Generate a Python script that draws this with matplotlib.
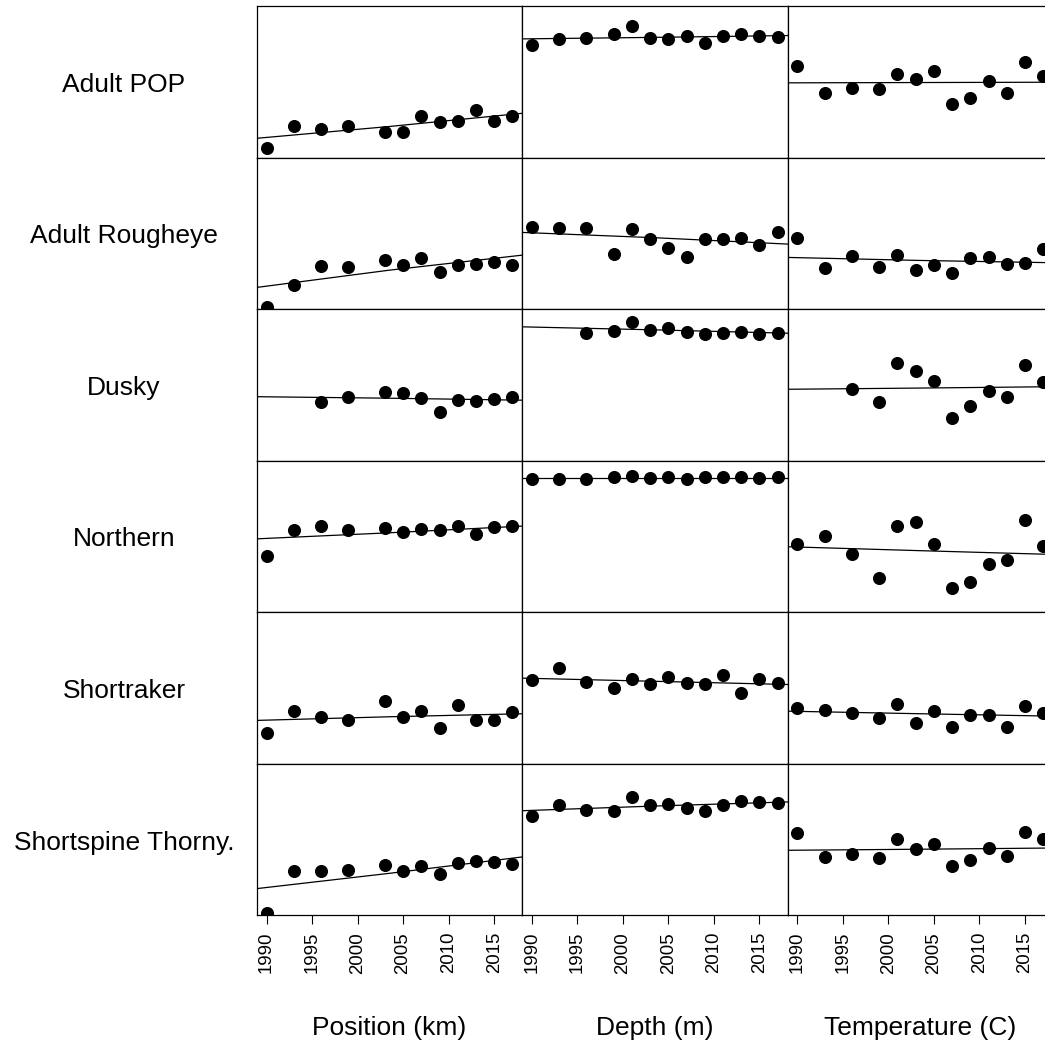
# trend of fish distribution metrics by year, one panel per species x variable
import numpy as np
import matplotlib.pyplot as plt
from matplotlib import rcParams

config = {
    "font.family": 'sans-serif',
    "font.sans-serif": ['Liberation Sans', 'DejaVu Sans'],
    "font.size": 19,
}
rcParams.update(config)

species = ['Adult POP', 'Adult Rougheye', 'Dusky', 'Northern', 'Shortraker', 'Shortspine Thorny.']
variables = ['Position (km)', 'Depth (m)', 'Temperature (C)']

# survey years
years_all = [1990, 1993, 1996, 1999, 2001, 2003, 2005, 2007, 2009, 2011, 2013, 2015, 2017]
years_pos = [1990, 1993, 1996, 1999, 2003, 2005, 2007, 2009, 2011, 2013, 2015, 2017]
years_dusky_pos = [1996, 1999, 2003, 2005, 2007, 2009, 2011, 2013, 2015, 2017]
years_dusky = [1996, 1999, 2001, 2003, 2005, 2007, 2009, 2011, 2013, 2015, 2017]

# relative index (0-100 of panel range)
pop_pos = [6.1, 21.1, 19.1, 20.7, 16.7, 16.7, 27.7, 23.3, 24.4, 31.7, 24.0, 27.1]
pop_dep = [74.4, 78.1, 79.0, 81.4, 87.1, 79.0, 78.1, 79.9, 75.7, 79.9, 81.4, 79.9, 79.7]
pop_tmp = [60.7, 42.4, 46.0, 45.1, 55.2, 51.7, 57.2, 35.2, 39.4, 50.6, 42.9, 62.9, 53.5]

rough_pos = [1.5, 15.8, 28.4, 27.5, 32.5, 29.0, 33.5, 24.6, 29.0, 29.9, 31.2, 29.0]
rough_dep = [53.9, 53.7, 53.3, 36.3, 53.0, 46.4, 40.5, 34.1, 46.4, 46.4, 47.1, 42.2, 50.8]
rough_tmp = [47.1, 26.9, 34.8, 27.9, 35.6, 25.7, 29.0, 23.8, 33.5, 34.1, 29.9, 30.6, 39.6]

dusky_pos = [38.5, 42.0, 45.1, 44.5, 41.6, 32.3, 39.9, 39.2, 40.7, 42.0]
dusky_dep = [84.5, 85.8, 91.4, 86.1, 87.8, 85.1, 83.8, 84.5, 85.1, 83.6, 84.3]
dusky_tmp = [47.1, 38.5, 64.3, 59.0, 52.6, 28.4, 36.3, 45.8, 42.0, 63.2, 52.1]

north_pos = [37.4, 54.1, 56.6, 54.1, 55.7, 52.6, 55.0, 54.1, 56.8, 51.7, 56.1, 56.6]
north_dep = [87.6, 87.6, 87.6, 89.1, 90.2, 88.4, 89.1, 87.6, 88.9, 88.9, 88.9, 88.4, 88.9]
north_tmp = [45.3, 50.6, 38.7, 22.7, 57.0, 59.4, 45.3, 16.1, 19.8, 32.1, 34.6, 61.0, 43.4]

short_pos = [20.5, 34.5, 31.0, 28.6, 41.1, 31.0, 34.5, 23.8, 38.7, 28.6, 28.6, 33.9]
short_dep = [55.0, 62.9, 54.1, 49.7, 55.8, 52.8, 57.2, 53.5, 52.8, 58.5, 46.9, 55.8, 53.5]
short_tmp = [36.7, 35.4, 33.7, 30.1, 39.3, 27.1, 34.5, 24.4, 32.3, 32.3, 24.4, 38.3, 33.2]

thorny_pos = [1.3, 29.0, 29.0, 29.9, 33.4, 29.0, 32.5, 27.5, 34.3, 35.6, 35.0, 33.9]
thorny_dep = [65.5, 73.0, 69.7, 68.8, 77.9, 73.0, 73.7, 70.6, 69.0, 73.0, 75.2, 74.6, 74.3]
thorny_tmp = [54.5, 38.5, 40.5, 37.6, 50.2, 43.6, 47.3, 32.5, 36.5, 44.2, 38.9, 54.8, 50.6]

# fitted trend read at start / middle / end of the year range
fit_years = [1988.92, 2003.5, 2018.08]
pop_fit = [[12.7, 20.5, 29.2], [78.3, 79.3, 80.5], [49.3, 49.5, 49.7]]
rough_fit = [[14.3, 25.7, 35.6], [50.6, 47.1, 42.9], [34.1, 32.1, 30.6]]
dusky_fit = [[42.2, 41.2, 39.9], [88.3, 86.3, 84.1], [47.1, 47.9, 48.8]]
north_fit = [[48.4, 52.4, 56.8], [88.7, 88.7, 88.7], [43.2, 40.6, 38.1]]
short_fit = [[28.6, 31.0, 33.0], [56.5, 54.4, 52.3], [34.7, 33.0, 31.4]]
thorny_fit = [[17.6, 27.7, 38.5], [69.0, 72.1, 74.8], [42.9, 43.6, 44.4]]

rows = [
    ([years_pos, years_all, years_all], [pop_pos, pop_dep, pop_tmp], pop_fit),
    ([years_pos, years_all, years_all], [rough_pos, rough_dep, rough_tmp], rough_fit),
    ([years_dusky_pos, years_dusky, years_dusky], [dusky_pos, dusky_dep, dusky_tmp], dusky_fit),
    ([years_pos, years_all, years_all], [north_pos, north_dep, north_tmp], north_fit),
    ([years_pos, years_all, years_all], [short_pos, short_dep, short_tmp], short_fit),
    ([years_pos, years_all, years_all], [thorny_pos, thorny_dep, thorny_tmp], thorny_fit),
]

W, H = 1045, 1041
fig = plt.figure(figsize=(W / 100, H / 100), dpi=100)

col_left = [256.7, 522.0, 787.5]
col_w = 265.5
row_top = 6.0
row_h = 151.55

for i, (yrs, vals, fits) in enumerate(rows):
    for j in range(3):
        top = row_top + i * row_h
        ax = fig.add_axes([col_left[j] / W, 1 - (top + row_h) / H, col_w / W, row_h / H])
        ax.plot(fit_years, fits[j], '-', color='black', lw=0.9)
        ax.plot(yrs[j], vals[j], 'o', color='black', ms=8.4, mec='black')
        ax.set_xlim(1988.92, 2018.08)
        ax.set_ylim(0, 100)
        ax.set_yticks([])
        for s in ax.spines.values():
            s.set_linewidth(0.9)
        if i == 5:
            ax.set_xticks([1990, 1995, 2000, 2005, 2010, 2015])
            ax.tick_params(axis='x', length=6.5, width=0.8, pad=5.5, labelsize=13.4,
                           labelrotation=90)
        else:
            ax.set_xticks([])
        if j == 0:
            fig.text(124 / W, 1 - (top + row_h * 0.5 + 3) / H, species[i],
                     ha='center', va='center', fontsize=19)

for j, lab in enumerate(variables):
    fig.text((col_left[j] + col_w / 2) / W, 1 - 1028 / H, lab,
             ha='center', va='center', fontsize=19)

plt.savefig('out.png', dpi=100)
